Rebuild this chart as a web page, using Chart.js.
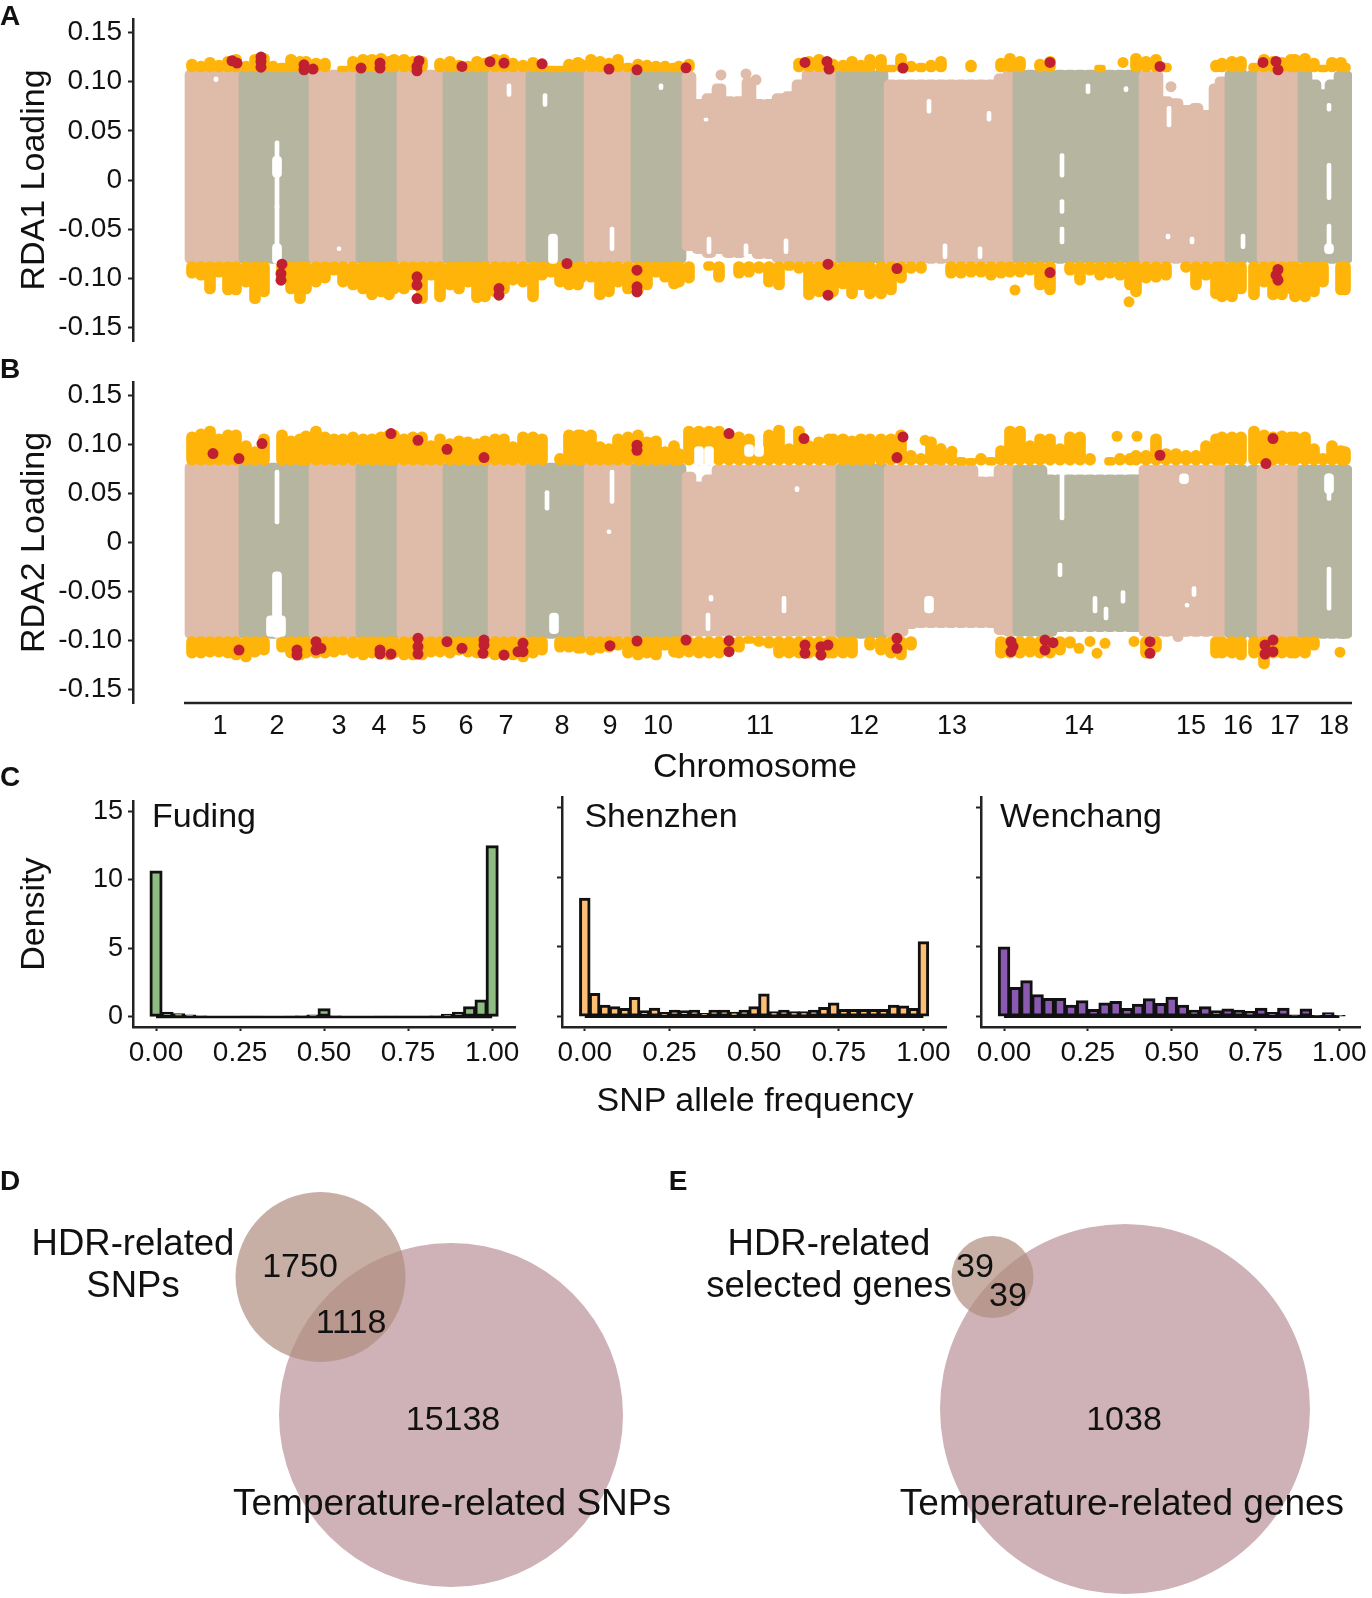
<!DOCTYPE html>
<html>
<head>
<meta charset="utf-8">
<script src="https://cdn.jsdelivr.net/npm/chart.js@4"></script>
<style>
    body { margin: 0; background: white; font-family: "Liberation Sans", Arial, sans-serif; }
    #page { position: relative; width: 1372px; height: 1598px; overflow: hidden; }
    canvas { position: absolute; }
    .txt { position: absolute; transform: translate(-50%, -50%); white-space: nowrap; color: #111; }
</style>
</head>
<body>
<div id="page"></div>
<script>
// chromosome data
const chromNames = ['1','2','3','4','5','6','7','8','9','10','11','12','13','14','15','16','17','18'];
const chromMids = [36,93,155,195,235,282,322,378,426,474,576,680,768,895,1007,1054,1101,1150];
const chromEnds = [57,127,174,215,261,306,344,402,449,500,654,702,831,957,1043,1075,1116,1166];
const loadingTicks = [-0.15,-0.10,-0.05,0,0.05,0.10,0.15];

// one row per chromosome in all the profiles below
const positions = [
    8,17,26,35,44,52,
    62,71,80,89,98,107,116,122,
    132,141,150,159,169,
    179,188,197,205,210,
    220,229,238,247,256,
    266,275,284,293,301,
    311,320,329,339,
    349,358,367,376,385,394,397,
    407,416,425,434,444,
    454,463,472,481,490,495,
    505,515,525,535,545,555,565,575,585,595,605,615,625,635,645,649,
    659,668,677,686,697,
    707,717,727,737,747,757,767,777,787,797,807,817,826,
    836,846,856,866,876,886,896,906,916,926,936,946,952,
    962,972,982,992,1002,1012,1022,1032,1038,
    1048,1057,1070,
    1080,1089,1098,1107,1111,
    1121,1130,1139,1148,1157,1161
];

const aBandTop = [
    .112,.112,.112,.112,.112,.112,
    .112,.112,.112,.112,.112,.112,.112,.112,
    .112,.112,.112,.112,.112,
    .112,.112,.112,.112,.112,
    .112,.112,.112,.112,.112,
    .112,.112,.112,.112,.112,
    .112,.112,.112,.112,
    .112,.112,.112,.112,.112,.112,.112,
    .112,.112,.112,.112,.112,
    .112,.112,.112,.112,.112,.112,
    .11,.082,.088,.098,.085,.085,.104,.082,.082,.088,.09,.102,.112,.112,.112,.112,
    .112,.112,.112,.112,.112,
    .102,.102,.102,.102,.102,.102,.102,.102,.102,.102,.102,.108,.112,
    .112,.112,.112,.112,.112,.112,.112,.112,.112,.112,.112,.112,.112,
    .111,.111,.085,.083,.076,.078,.071,.098,.105,
    .112,.112,.112,
    .112,.112,.112,.112,.112,
    .112,.102,.092,.102,.111,.111
];
const aBandBottom = [
    -.085,-.085,-.085,-.085,-.085,-.085,
    -.085,-.085,-.085,-.085,-.085,-.085,-.085,-.085,
    -.085,-.085,-.085,-.085,-.085,
    -.085,-.085,-.085,-.085,-.085,
    -.085,-.085,-.085,-.085,-.085,
    -.085,-.085,-.085,-.085,-.085,
    -.085,-.085,-.085,-.085,
    -.085,-.085,-.085,-.085,-.085,-.085,-.085,
    -.085,-.085,-.085,-.085,-.085,
    -.085,-.085,-.085,-.085,-.085,-.085,
    -.072,-.075,-.079,-.075,-.079,-.079,-.075,-.08,-.08,-.084,-.085,-.085,-.085,-.085,-.085,-.085,
    -.085,-.085,-.085,-.085,-.085,
    -.085,-.085,-.085,-.085,-.085,-.085,-.085,-.085,-.085,-.085,-.085,-.085,-.085,
    -.085,-.085,-.085,-.085,-.085,-.085,-.085,-.085,-.085,-.085,-.085,-.085,-.085,
    -.085,-.085,-.085,-.085,-.085,-.085,-.085,-.085,-.085,
    -.085,-.085,-.085,
    -.085,-.085,-.085,-.085,-.085,
    -.085,-.085,-.085,-.085,-.085,-.085
];
const aYellowTop = [
    .123,.121,.125,.122,.126,.128,
    .121,.128,.129,.121,.119,.128,.126,.126,
    .124,.124,null,.116,.126,
    .128,.128,.129,.126,.128,
    .128,.126,.126,null,.124,
    .126,.122,.121,.126,.124,
    .128,.128,.124,.122,
    .125,.122,.116,.116,.123,.125,.123,
    .128,.126,.124,.128,.119,
    .123,.122,.121,.121,.119,.121,
    .123,null,null,null,null,null,null,null,null,null,null,.124,.126,.128,.124,.123,
    .122,.126,.122,.128,.128,
    .117,.129,.121,.119,.122,.126,null,null,.122,null,null,.124,.129,
    .126,null,.123,.126,null,null,null,null,.117,null,null,null,.129,
    .126,.128,.119,null,null,null,null,.122,.124,
    .126,.126,.119,
    .128,.126,.125,.128,.128,
    .129,.124,.117,.125,.125,.119
];
const aYellowBottom = [
    -.100,-.102,-.116,-.099,-.117,-.117,
    -.109,-.126,-.119,null,-.105,-.116,-.126,-.116,
    -.109,-.105,-.097,-.109,-.112,
    -.116,-.122,-.119,-.122,-.116,
    -.116,-.112,-.126,-.102,-.124,
    -.112,-.116,-.109,-.125,-.124,
    -.119,-.116,-.107,-.109,
    -.124,-.102,-.099,-.109,-.112,-.112,-.105,
    -.104,-.122,-.119,-.109,-.116,
    -.117,-.112,-.099,-.104,-.111,-.109,
    -.105,null,-.092,-.104,null,-.100,-.099,-.095,-.109,-.112,-.092,-.095,-.122,-.119,-.122,-.119,
    -.111,-.121,-.112,-.121,-.121,
    -.117,-.105,-.095,-.095,null,null,-.100,-.100,-.099,-.099,-.102,-.100,-.099,
    -.099,-.097,-.112,-.117,null,-.097,-.107,-.097,-.102,-.100,-.102,-.112,-.119,
    -.105,-.104,-.102,null,-.094,-.112,-.102,-.121,-.124,
    -.124,-.116,-.122,
    -.109,-.122,-.122,-.116,-.124,
    -.124,-.119,-.109,null,-.117,-.117
];

const bBandTop = [
    .081,.081,.081,.081,.081,.081,
    .081,.081,.081,.081,.081,.081,.081,.081,
    .081,.081,.081,.081,.081,
    .081,.081,.081,.081,.081,
    .081,.081,.081,.081,.081,
    .081,.081,.081,.081,.081,
    .081,.081,.081,.081,
    .081,.081,.081,.081,.081,.081,.081,
    .081,.081,.081,.081,.081,
    .081,.081,.081,.081,.081,.081,
    .072,.062,.069,.079,.079,.079,.079,.079,.079,.079,.079,.079,.079,.079,.079,.079,
    .081,.081,.081,.081,.081,
    .079,.079,.079,.079,.079,.079,.079,.079,.079,.067,.067,.079,.079,
    .079,.079,.079,.069,.069,.069,.069,.069,.069,.069,.069,.069,.069,
    .079,.079,.079,.079,.079,.079,.079,.079,.079,
    .079,.079,.079,
    .079,.079,.079,.079,.079,
    .079,.079,.079,.079,.079,.079
];
const bBandBottom = [
    -.098,-.098,-.098,-.098,-.098,-.098,
    -.098,-.098,-.098,-.098,-.098,-.098,-.098,-.098,
    -.098,-.098,-.098,-.098,-.098,
    -.098,-.098,-.098,-.098,-.098,
    -.098,-.098,-.098,-.098,-.098,
    -.098,-.098,-.098,-.098,-.098,
    -.098,-.098,-.098,-.098,
    -.098,-.098,-.098,-.098,-.098,-.098,-.098,
    -.098,-.098,-.098,-.098,-.098,
    -.098,-.098,-.098,-.098,-.098,-.098,
    -.096,-.096,-.096,-.096,-.096,-.096,-.096,-.096,-.096,-.096,-.096,-.096,-.096,-.096,-.096,-.096,
    -.098,-.098,-.098,-.098,-.098,
    -.096,-.096,-.088,-.087,-.087,-.087,-.087,-.087,-.087,-.087,-.087,-.094,-.096,
    -.096,-.096,-.096,-.096,-.091,-.091,-.091,-.091,-.091,-.091,-.091,-.091,-.091,
    -.096,-.096,-.096,-.096,-.096,-.096,-.096,-.096,-.096,
    -.098,-.098,-.098,
    -.098,-.098,-.098,-.098,-.098,
    -.098,-.098,-.098,-.098,-.098,-.098
];
const bYellowTop = [
    .113,.116,.119,.111,.115,.115,
    .104,.098,.111,null,.115,.109,.111,.114,
    .119,.113,.111,.111,.113,
    .111,.111,.113,.115,.115,
    .111,.113,.113,.104,.111,
    .106,.109,.108,.106,.109,
    .111,.111,.103,.113,
    .113,.111,null,.091,.115,.115,.115,
    .115,.103,.101,.111,.113,
    .115,.108,.109,.098,.104,.096,
    .119,.119,.119,.119,.115,.113,.111,.091,.115,.12,.101,.119,.104,.108,.111,.111,
    .111,.109,.111,.111,.111,
    .111,.115,.094,.091,.108,.099,.096,.087,.086,.091,.087,.099,.119,
    .119,.104,.111,.111,.101,.113,.113,.091,null,.087,.091,.091,.094,
    .094,.111,.096,.096,.094,.094,.104,.111,.113,
    .113,.113,.119,
    .115,.113,.114,.113,.113,
    .113,.101,.091,.104,.099,.098
];
const bYellowBottom = [
    -.118,-.118,-.117,-.117,-.118,-.120,
    -.122,-.117,-.115,null,-.112,-.118,-.120,-.118,
    -.118,-.118,-.117,-.115,-.118,
    -.120,-.118,-.118,-.120,-.118,
    -.120,-.120,-.120,-.117,-.117,
    -.118,-.115,-.117,-.118,-.118,
    -.120,-.120,-.120,-.122,
    -.118,-.115,null,-.112,-.112,-.113,-.113,
    -.115,-.113,-.112,-.110,-.118,
    -.120,-.118,-.120,-.110,-.117,-.118,
    -.117,-.118,-.118,-.118,-.115,-.112,-.103,-.106,-.108,-.118,-.118,-.118,-.118,-.118,-.118,-.118,
    -.118,-.118,null,-.110,-.115,
    -.118,-.120,-.110,null,null,null,null,null,null,null,null,-.118,-.118,
    -.118,-.117,-.118,-.118,-.115,-.108,null,null,null,null,null,null,null,
    -.118,-.112,null,null,null,null,null,-.118,-.118,
    -.118,-.120,-.118,
    -.129,-.118,-.118,-.118,-.118,
    -.118,-.110,null,null,null,null
];

// loose points
const aYellowDotX = [939,831,945];
const aYellowDotY = [.1197,-.112,-.124];
const aPinkDotX = [537,562,572,987];
const aPinkDotY = [.107,.108,.102,.095];
const bYellowDotX = [933,953,741,757,768,895,906,913,921,950,1156];
const bYellowDotY = [.1085,.1085,.1044,.0959,.0932,-.108,-.101,-.113,-.103,-.101,-.112];
const bPinkDotX = [994,756];
const bPinkDotY = [-.096,.08];

const aRedX = [48,53,77,77,77,120,120,129,177,196,196,235,233,233,278,306,320,358,425,453,502,98,97,97,233,233,233,315,315,383,453,453,453,
    621,643,645,719,866,976,1079,1092,1094,644,644,713,866,1094,1092,1094];
const aRedY = [.1214,.119,.1251,.1207,.1149,.1173,.1122,.1129,.1139,.119,.1139,.1214,.1156,.1112,.1156,.1204,.119,.1183,.1129,.1122,.1142,-.0857,-.0952,-.102,-.0986,-.1071,-.1207,-.1105,-.1173,-.085,-.0918,-.1088,-.1139,
    .1197,.1207,.1129,.1139,.1197,.1156,.1197,.1207,.1122,-.0857,-.1173,-.0901,-.0942,-.0911,-.0969,-.102];
const bRedX = [29,55,78,207,234,263,300,453,453,55,113,113,132,132,137,196,196,207,234,234,234,263,278,300,300,299,320,334,339,339,426,453,502,
    545,620,719,713,976,1089,1082,545,545,621,621,637,637,644,713,713,827,827,829,861,861,869,966,966,1089,1089,1081,1081];
const bRedY = [.0908,.0857,.101,.1112,.1044,.0952,.0867,.0993,.0942,-.1098,-.1098,-.1149,-.1013,-.1098,-.1081,-.1098,-.1139,-.1139,-.0979,-.1064,-.1139,-.1013,-.1081,-.0996,-.1047,-.1132,-.1149,-.1115,-.103,-.1115,-.1054,-.1006,-.0996,
    .1112,.1061,.1078,.0867,.0891,.1061,.0806,-.1003,-.1115,-.1047,-.1132,-.1064,-.1149,-.1047,-.0979,-.1081,-.1013,-.1115,-.1064,-.0996,-.1098,-.1023,-.1013,-.1132,-.0996,-.1115,-.1047,-.1139];

// empty patches in the point clouds
const aThinGapX = [93,93,878,878,878,904,942,522,745,805,985,1008,984,1059,1145,1145,1145,525,562,602,761,796,325,361,428,477,32,155];
const aThinGapLo = [-.03,-.084,.003,-.034,-.065,.088,.09,.06,.068,.06,.054,-.065,-.06,-.07,-.02,-.075,.07,-.075,-.078,-.075,-.08,-.08,.085,.075,-.072,.092,.10,-.072];
const aThinGapHi = [.04,-.025,.027,-.02,-.048,.098,.095,.063,.082,.07,.075,-.058,-.055,-.055,.017,-.045,.078,-.058,-.065,-.06,-.065,-.068,.098,.088,-.048,.098,.105,-.068];
const aWideGapX = [93,93,369,1145];
const aWideGapLo = [.003,-.085,-.085,-.075];
const aWideGapHi = [.024,-.065,-.055,-.065];
const bThinGapX = [93,363,428,425,878,876,1145,1145,911,922,939,613,600,527,524,1010,1003];
const bThinGapLo = [.019,.033,.04,.009,.023,-.035,.043,-.069,-.072,-.079,-.062,.052,-.072,-.06,-.09,-.055,-.066];
const bThinGapHi = [.074,.053,.074,.013,.07,-.021,.07,-.025,-.055,-.066,-.049,.057,-.055,-.054,-.072,-.045,-.062];
const bWideGapX = [93,87,97,370,745,1000,515,525,565,575,1145];
const bWideGapLo = [-.097,-.096,-.096,-.093,-.072,.06,.079,.079,.088,.088,.05];
const bWideGapHi = [-.03,-.075,-.075,-.072,-.055,.07,.098,.098,.1,.1,.07];

// allele frequency histograms
const freqTicks = [0,0.25,0.5,0.75,1];
const densityTicks = [0,5,10,15];
const fudingBins = [0,.033,.067,.1,.133,.167,.2,.233,.267,.3,.333,.367,.4,.433,.467,.5,.533,.567,.6,.633,.667,.7,.733,.767,.8,.833,.867,.9,.933,.967,1];
const fudingDensity = [10.65,.35,.25,.15,.08,.04,.03,.03,.05,.06,.04,.03,.05,.08,.15,.6,.08,.04,.03,.04,.05,.05,.05,.05,.06,.08,.2,.35,.75,1.25,12.5];
const shenzhenBins = [0,.029,.059,.088,.118,.147,.176,.206,.235,.265,.294,.324,.353,.382,.412,.441,.471,.5,.529,.559,.588,.618,.647,.676,.706,.735,.765,.794,.824,.853,.882,.912,.941,.971,1];
const shenzhenDensity = [8.5,1.67,.84,.72,.6,1.39,.43,.62,.31,.48,.43,.48,.24,.48,.48,.33,.48,.72,1.63,.36,.48,.36,.36,.48,.67,1.0,.53,.53,.53,.53,.53,.84,.77,.6,5.38];
const wenchangBins = [0,.033,.067,.1,.133,.167,.2,.233,.267,.3,.333,.367,.4,.433,.467,.5,.533,.567,.6,.633,.667,.7,.733,.767,.8,.833,.867,.9,.933,.967,1];
const wenchangDensity = [5.0,2.1,2.58,1.58,1.32,1.32,.84,1.15,.53,1.0,1.1,.6,.9,1.29,.96,1.41,.84,.48,.72,.43,.57,.48,.38,.62,.31,.62,.14,.57,.1,.29,.1];

// venn circles, large set first
const vennX = [451,1125,320.5,992.5];
const vennY = [1415,1409,1277,1277];

const pink = '#dfbba9';
const green = '#b5b5a0';
const yellow = '#ffb40a';
const red = '#c0202f';
const ink = '#111';
const axisInk = '#222';
const fontName = '"Liberation Sans", Arial, sans-serif';

Chart.defaults.animation = false;
Chart.defaults.responsive = false;
Chart.defaults.devicePixelRatio = 1;
Chart.defaults.font.family = fontName;
Chart.defaults.color = ink;
Chart.defaults.plugins.legend.display = false;
Chart.defaults.plugins.tooltip.enabled = false;

const page = document.getElementById('page');

function addCanvas(left, top, w, h) {
    let c = document.createElement('canvas');
    c.width = w;
    c.height = h;
    c.style.left = left + 'px';
    c.style.top = top + 'px';
    page.appendChild(c);
    return c;
}

function addText(text, x, y, size, bold) {
    let d = document.createElement('div');
    d.className = 'txt';
    d.textContent = text;
    d.style.left = x + 'px';
    d.style.top = y + 'px';
    d.style.fontSize = size + 'px';
    if (bold) d.style.fontWeight = 'bold';
    page.appendChild(d);
}

function pairs(xs, ys) {
    return xs.map((x, i) => ({ x: x, y: ys[i] }));
}

function ranges(xs, lo, hi) {
    return xs.map((x, i) => ({ x: x, y: [lo[i], hi[i]] }));
}

// columns with a missing edge are left out
function profile(lo, hi) {
    let out = [];
    positions.forEach((x, i) => {
        let a = Array.isArray(lo) ? lo[i] : lo;
        let b = Array.isArray(hi) ? hi[i] : hi;
        if (a !== null && b !== null) out.push({ x: x, y: [a, b] });
    });
    return out;
}

function chromColor(x) {
    let k = chromEnds.findIndex(e => x < e);
    return k % 2 == 0 ? pink : green;
}

function stick(data, color, thickness, radius, order) {
    return {
        data: data,
        backgroundColor: color,
        barThickness: thickness,
        borderRadius: radius,
        borderSkipped: false,
        borderWidth: 0,
        grouped: false,
        order: order,
    };
}

function dots(data, color, order) {
    return {
        type: 'scatter',
        data: data,
        backgroundColor: color,
        borderWidth: 0,
        pointRadius: 5.5,
        order: order,
    };
}

function loadingChart(canvas, p) {
    let bandData = profile(p.bandBottom, p.bandTop);
    let datasets = [
        dots(p.red, red, 1),
        stick(p.thinGaps, 'white', 4, 2, 2),
        stick(p.wideGaps, 'white', 9, 4, 2),
        dots(p.yellowDots, yellow, 3),
        stick(profile(p.yellowBase, p.yellowTop), yellow, 11, 5.5, 3),
        stick(profile(p.yellowBottom, p.yellowCeil), yellow, 11, 5.5, 3),
        dots(p.pinkDots, pink, 4),
        stick(bandData, bandData.map(d => chromColor(d.x)), 14, 5, 5),
    ];
    if (p.showChrom) {
        datasets.push({
            type: 'scatter',
            data: [{ x: 0, y: -0.1639 }, { x: 1168, y: -0.1639 }],
            showLine: true,
            borderColor: axisInk,
            borderWidth: 2.5,
            pointRadius: 0,
            clip: false,
            order: 0,
        });
    }
    return new Chart(canvas, {
        type: 'bar',
        data: { datasets: datasets },
        options: {
            layout: { autoPadding: false, padding: { top: p.top, right: 20, bottom: p.bottom, left: 0 } },
            scales: {
                x: {
                    type: 'linear',
                    offset: false,
                    min: -51,
                    max: 1168,
                    border: { display: false },
                    grid: { display: false, drawTicks: false, offset: false },
                    afterBuildTicks: s => { s.ticks = chromMids.map(v => ({ value: v })); },
                    afterFit: s => { s.height = p.showChrom ? 67 : 0; },
                    ticks: {
                        display: p.showChrom,
                        autoSkip: false,
                        maxRotation: 0,
                        padding: 7,
                        font: { size: 27 },
                        callback: v => chromNames[chromMids.indexOf(v)],
                    },
                },
                y: {
                    min: -0.1639,
                    max: 0.1639,
                    afterBuildTicks: s => { s.ticks = loadingTicks.map(v => ({ value: v })); },
                    // the tick labels must not push the plot area in
                    afterFit: s => { s.width = 133; s.paddingTop = 0; s.paddingBottom = 0; },
                    border: { color: axisInk, width: 2.5 },
                    grid: { drawOnChartArea: false, tickLength: 5, tickColor: axisInk, tickWidth: 2 },
                    ticks: {
                        padding: 6,
                        font: { size: 28 },
                        callback: v => v == 0 ? '0' : v.toFixed(2),
                    },
                    title: { display: true, text: p.title, font: { size: 34 }, color: ink, padding: { top: 14, bottom: 0 } },
                },
            },
        },
    });
}

function histChart(canvas, h) {
    return new Chart(canvas, {
        type: 'bar',
        data: {
            datasets: [
                {
                    type: 'scatter',
                    data: [{ x: h.bins[0], y: 0 }, { x: h.bins[h.bins.length - 1], y: 0 }],
                    showLine: true,
                    borderColor: '#111',
                    borderWidth: 2.5,
                    pointRadius: 0,
                    order: 0,
                },
                {
                    data: pairs(h.bins, h.density),
                    backgroundColor: h.color,
                    borderColor: '#111',
                    borderWidth: 3,
                    borderSkipped: false,
                    barThickness: h.barWidth,
                    order: 1,
                },
            ],
        },
        options: {
            layout: { autoPadding: false, padding: { top: 17, right: h.right, bottom: 0, left: 0 } },
            scales: {
                x: {
                    type: 'linear',
                    offset: false,
                    min: h.xMin,
                    max: h.xMax,
                    afterBuildTicks: s => { s.ticks = freqTicks.map(v => ({ value: v })); },
                    afterFit: s => { s.height = 53; },
                    border: { color: axisInk, width: 2.5 },
                    grid: { drawOnChartArea: false, offset: false, tickLength: 4, tickColor: axisInk, tickWidth: 2 },
                    ticks: { autoSkip: false, maxRotation: 0, padding: 5, font: { size: 28 }, callback: v => v.toFixed(2) },
                },
                y: {
                    min: -0.738,
                    max: 15.74,
                    afterBuildTicks: s => { s.ticks = densityTicks.map(v => ({ value: v })); },
                    afterFit: s => { s.width = h.axisLeft; },
                    border: { color: axisInk, width: 2.5 },
                    grid: { drawOnChartArea: false, tickLength: 5, tickColor: axisInk, tickWidth: 2 },
                    ticks: { display: h.showLabels, padding: 5, font: { size: 27 } },
                    title: { display: h.showLabels, text: 'Density', font: { size: 34 }, color: ink, padding: { top: 14, bottom: 0 } },
                },
            },
        },
    });
}

loadingChart(addCanvas(0, 0, 1372, 345), {
    title: 'RDA1 Loading', top: 19, bottom: 4, showChrom: false,
    bandTop: aBandTop, bandBottom: aBandBottom,
    yellowTop: aYellowTop, yellowBase: 0.11,
    yellowBottom: aYellowBottom, yellowCeil: -0.083,
    yellowDots: pairs(aYellowDotX, aYellowDotY),
    pinkDots: pairs(aPinkDotX, aPinkDotY),
    red: pairs(aRedX, aRedY),
    thinGaps: ranges(aThinGapX, aThinGapLo, aThinGapHi),
    wideGaps: ranges(aWideGapX, aWideGapLo, aWideGapHi),
});

loadingChart(addCanvas(0, 350, 1372, 420), {
    title: 'RDA2 Loading', top: 32, bottom: 0, showChrom: true,
    bandTop: bBandTop, bandBottom: bBandBottom,
    yellowTop: bYellowTop, yellowBase: 0.079,
    yellowBottom: bYellowBottom, yellowCeil: -0.096,
    yellowDots: pairs(bYellowDotX, bYellowDotY),
    pinkDots: pairs(bPinkDotX, bPinkDotY),
    red: pairs(bRedX, bRedY),
    thinGaps: ranges(bThinGapX, bThinGapLo, bThinGapHi),
    wideGaps: ranges(bWideGapX, bWideGapLo, bWideGapHi),
});

histChart(addCanvas(0, 780, 560, 300), {
    bins: fudingBins, density: fudingDensity, color: '#8fbc83', barWidth: 12.4,
    axisLeft: 133, right: 45, xMin: -0.0685, xMax: 1.068, showLabels: true,
});
histChart(addCanvas(540, 780, 420, 300), {
    bins: shenzhenBins, density: shenzhenDensity, color: '#fdbf75', barWidth: 10.8,
    axisLeft: 22, right: 14, xMin: -0.0673, xMax: 1.0667, showLabels: false,
});
histChart(addCanvas(960, 780, 412, 300), {
    bins: wenchangBins, density: wenchangDensity, color: '#8a5ab0', barWidth: 11.8,
    axisLeft: 21, right: 7, xMin: -0.0687, xMax: 1.0625, showLabels: false,
});

new Chart(addCanvas(0, 1150, 1372, 448), {
    type: 'scatter',
    data: {
        datasets: [
            {
                data: pairs(vennX.slice(2), vennY.slice(2)),
                backgroundColor: 'rgba(175,141,127,0.7)',
                borderWidth: 0,
                pointRadius: [85, 41],
                clip: false,
                order: 1,
            },
            {
                data: pairs(vennX.slice(0, 2), vennY.slice(0, 2)),
                backgroundColor: 'rgb(207,178,183)',
                borderWidth: 0,
                pointRadius: [172, 185],
                clip: false,
                order: 2,
            },
        ],
    },
    options: {
        layout: { autoPadding: false, padding: 0 },
        scales: {
            x: { display: false, min: 0, max: 1372 },
            y: { display: false, min: 1150, max: 1598, reverse: true },
        },
    },
});

addText('A', 10, 16, 28, true);
addText('B', 10, 369, 28, true);
addText('C', 10, 777, 28, true);
addText('D', 10, 1181, 28, true);
addText('E', 678, 1181, 28, true);
addText('Chromosome', 755, 765, 34);
addText('Fuding', 204, 815, 34);
addText('Shenzhen', 661, 815, 34);
addText('Wenchang', 1081, 815, 34);
addText('SNP allele frequency', 755, 1099, 34);
addText('HDR-related', 133, 1243, 36.5);
addText('SNPs', 133, 1285, 36.5);
addText('1750', 300, 1265, 34);
addText('1118', 351, 1321, 34);
addText('15138', 453, 1418, 34);
addText('Temperature-related SNPs', 452, 1503, 37);
addText('HDR-related', 829, 1243, 36.5);
addText('selected genes', 829, 1285, 36.5);
addText('39', 975, 1265, 34);
addText('39', 1008, 1294, 34);
addText('1038', 1124, 1418, 34);
addText('Temperature-related genes', 1122, 1503, 37);
</script>
</body>
</html>
